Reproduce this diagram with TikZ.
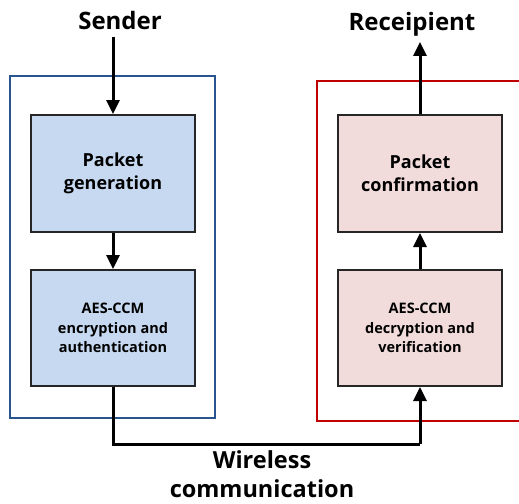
\documentclass[tikz,border=0pt]{standalone}
\usepackage{fontspec}
\setmainfont{Open Sans}
\usetikzlibrary{arrows.meta}
\definecolor{outblue}{HTML}{2A5490}
\definecolor{outred}{HTML}{C00000}
\definecolor{fillblue}{HTML}{C6D9F0}
\definecolor{fillpink}{HTML}{F2DCDB}
\begin{document}
\begin{tikzpicture}[x=1pt,y=-1pt,
  procbox/.style={draw=black!85,line width=2pt,minimum width=164pt,minimum height=117pt,align=center,inner sep=0pt},
  flow/.style={line width=3pt,-{Triangle[length=14pt,width=13pt]}},
  plain/.style={line width=3pt},
  frame/.style={line width=2.6pt}]
\useasboundingbox (0,0) rectangle (519,503);
% outer frames
\draw[frame,draw=outblue] (10,76) rectangle (215,418);
\draw[frame,draw=outred] (317,81) -- (522,81) -- (522,421) -- (317,421) -- cycle;
% boxes
\node[procbox,fill=fillblue,font=\bfseries\fontsize{18}{23}\selectfont] (pg) at (113,173.5) {Packet\\generation};
\node[procbox,fill=fillblue,minimum height=116pt,font=\bfseries\fontsize{14.5}{19.5}\selectfont] (enc) at (113,328) {AES-CCM\\encryption and\\authentication};
\node[procbox,fill=fillpink,font=\bfseries\fontsize{18}{23}\selectfont] (pc) at (420,173.5) {Packet\\confirmation};
\node[procbox,fill=fillpink,minimum height=116pt,font=\bfseries\fontsize{14.5}{19.5}\selectfont] (dec) at (420,328) {AES-CCM\\decryption and\\verification};
% labels
\node[font=\bfseries\fontsize{24}{28}\selectfont] (snd) at (120,21) {Sender};
\node[font=\bfseries\fontsize{24}{28}\selectfont] (rcv) at (412,24) {Receipient};
\node[font=\bfseries\fontsize{23.5}{29}\selectfont,align=center] (wl) at (262,474) {Wireless\\communication};
\coordinate (sndend) at (113,37);
\coordinate (rcvend) at (420,42);
\coordinate (wl1) at (113,444);
\coordinate (wl2) at (420,444);
% connectors
\draw[flow] (sndend) -- (pg.north);
\draw[flow] (pg.south) -- (enc.north);
\draw[plain] (enc.south) -- (wl1) -- (wl2);
\draw[flow] (wl2) -- (dec.south);
\draw[flow] (dec.north) -- (pc.south);
\draw[flow] (pc.north) -- (rcvend);
\end{tikzpicture}
\end{document}
